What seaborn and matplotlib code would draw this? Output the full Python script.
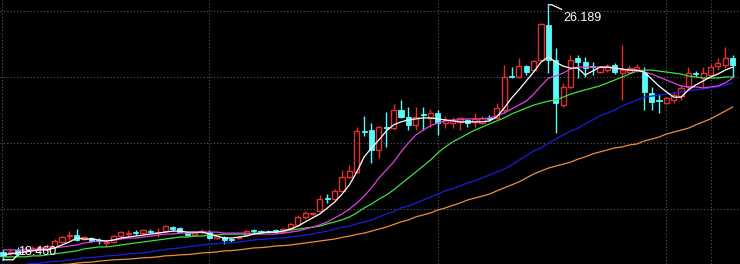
import numpy as np
import pandas as pd
import matplotlib
matplotlib.use("Agg")
import matplotlib.pyplot as plt
import seaborn as sns

# ---------------- data ----------------
opens = [18.70,18.67,18.76,18.73,18.79,18.82,18.79,18.85,19.00,19.18,
         19.21,19.09,19.12,19.06,18.97,19.00,19.18,19.24,19.30,19.27,
         19.33,19.27,19.33,19.45,19.42,19.27,19.21,19.30,19.30,19.12,
         19.15,19.09,19.12,19.21,19.36,19.33,19.33,19.36,19.30,19.42,
         19.52,19.76,19.85,19.94,20.33,20.30,20.55,20.97,21.12,22.36,
         22.39,21.79,22.48,22.45,23.00,22.79,22.55,22.88,22.76,22.91,
         22.61,22.61,22.64,22.70,22.64,22.61,22.76,22.76,23.00,24.03,
         24.00,24.33,24.21,24.52,25.58,24.52,23.15,23.70,24.58,24.45,
         24.33,24.15,24.21,24.36,24.12,24.15,24.21,24.15,23.52,23.30,
         23.21,23.30,23.42,23.70,24.12,23.97,24.06,24.33,24.36,24.58]
highs = [18.76,18.79,18.85,18.85,18.88,18.91,18.94,19.09,19.18,19.33,
         19.39,19.18,19.15,19.12,19.06,19.21,19.33,19.36,19.36,19.39,
         19.39,19.42,19.52,19.48,19.45,19.30,19.30,19.39,19.36,19.18,
         19.18,19.12,19.18,19.36,19.39,19.36,19.36,19.39,19.42,19.58,
         19.82,19.94,19.91,20.42,20.45,20.61,21.18,21.33,22.48,22.82,
         22.61,22.52,22.94,23.18,23.30,23.09,23.09,23.09,23.03,23.00,
         22.82,22.79,22.79,22.73,22.91,22.82,22.85,23.21,24.36,24.30,
         24.58,24.36,24.52,25.64,26.189,24.88,23.82,24.67,24.67,24.61,
         24.45,24.33,24.39,24.42,24.97,24.36,24.39,24.30,23.70,23.48,
         23.39,23.55,23.76,24.30,24.18,24.30,24.39,24.58,24.91,24.67]
lows = [18.46,18.61,18.58,18.70,18.76,18.79,18.73,18.82,18.97,19.06,
        19.03,19.06,19.00,18.94,18.88,18.97,19.15,19.15,19.21,19.24,
        19.27,19.15,19.30,19.33,19.27,19.18,19.18,19.24,19.09,19.09,
        18.94,19.00,19.09,19.18,19.27,19.27,19.27,19.27,19.27,19.39,
        19.48,19.70,19.82,19.91,20.18,20.27,20.52,20.94,21.09,22.21,
        21.39,21.55,21.88,22.39,22.76,22.39,22.39,22.39,22.48,22.24,
        22.45,22.45,22.39,22.48,22.48,22.58,22.67,22.73,22.91,23.97,
        23.97,24.06,24.18,24.48,24.12,22.30,23.09,23.67,23.97,24.00,
        24.06,24.12,24.15,24.09,23.30,24.12,24.15,23.00,23.00,22.91,
        23.18,23.21,23.30,23.61,24.00,23.70,24.00,24.21,24.27,24.00]
closes = [18.58,18.70,18.64,18.79,18.82,18.85,18.88,19.03,19.15,19.21,
          19.06,19.15,19.03,19.03,19.00,19.18,19.30,19.27,19.27,19.36,
          19.30,19.30,19.48,19.39,19.30,19.21,19.27,19.33,19.12,19.18,
          19.06,19.06,19.15,19.33,19.33,19.30,19.30,19.30,19.39,19.55,
          19.76,19.88,19.88,20.30,20.30,20.55,20.97,21.15,22.36,22.33,
          21.79,22.48,22.45,23.00,22.79,22.55,22.79,22.85,22.91,22.61,
          22.70,22.70,22.76,22.61,22.73,22.76,22.73,23.06,24.00,24.00,
          24.33,24.15,24.48,25.61,24.52,23.21,23.70,24.52,24.45,24.27,
          24.30,24.30,24.33,24.15,24.21,24.27,24.30,23.55,23.24,23.27,
          23.36,23.45,23.67,24.12,24.09,24.12,24.30,24.42,24.58,24.36]

ma5 = [18.61,18.64,18.67,18.70,18.73,18.76,18.76,18.82,18.91,19.00,
       19.12,19.09,19.09,19.06,19.03,19.06,19.12,19.15,19.18,19.21,
       19.24,19.27,19.30,19.33,19.33,19.30,19.30,19.30,19.24,19.18,
       19.12,19.12,19.15,19.18,19.24,19.27,19.30,19.30,19.33,19.39,
       19.48,19.61,19.73,19.85,20.03,20.21,20.45,20.73,21.12,21.58,
       21.85,22.09,22.36,22.55,22.64,22.70,22.73,22.76,22.76,22.73,
       22.70,22.67,22.64,22.64,22.64,22.64,22.67,22.79,23.06,23.36,
       23.61,23.88,24.15,24.45,24.61,24.45,24.33,24.27,24.27,24.06,
       24.18,24.30,24.30,24.27,24.24,24.21,24.21,24.15,23.94,23.73,
       23.55,23.39,23.39,23.61,23.76,23.88,24.00,24.09,24.21,24.30]
ma10 = [18.76,18.76,18.76,18.76,18.76,18.79,18.79,18.82,18.85,18.88,
        18.91,18.97,19.00,19.03,19.03,19.06,19.09,19.12,19.12,19.15,
        19.18,19.21,19.24,19.24,19.27,19.27,19.27,19.30,19.30,19.30,
        19.27,19.27,19.27,19.27,19.24,19.24,19.24,19.24,19.27,19.30,
        19.33,19.39,19.45,19.52,19.61,19.73,19.85,20.00,20.18,20.39,
        20.64,20.94,21.18,21.42,21.73,22.00,22.24,22.39,22.52,22.61,
        22.67,22.70,22.70,22.73,22.73,22.73,22.76,22.82,22.91,23.03,
        23.15,23.27,23.48,23.73,23.97,24.03,24.12,24.24,24.30,24.30,
        24.30,24.30,24.30,24.27,24.24,24.21,24.18,24.15,24.09,24.00,
        23.91,23.82,23.73,23.70,23.70,23.67,23.70,23.73,23.82,23.97]
ma20 = [18.55,18.55,18.55,18.55,18.58,18.58,18.61,18.64,18.67,18.70,
        18.73,18.79,18.82,18.85,18.85,18.88,18.91,18.94,18.97,19.00,
        19.03,19.06,19.09,19.12,19.15,19.15,19.18,19.18,19.21,19.21,
        19.24,19.24,19.24,19.24,19.27,19.27,19.30,19.30,19.33,19.36,
        19.39,19.42,19.45,19.48,19.55,19.61,19.67,19.76,19.88,20.03,
        20.15,20.30,20.42,20.58,20.76,20.94,21.12,21.30,21.48,21.70,
        21.88,22.03,22.15,22.27,22.39,22.48,22.58,22.67,22.76,22.88,
        22.97,23.06,23.15,23.21,23.27,23.30,23.39,23.48,23.55,23.61,
        23.67,23.73,23.82,23.91,24.00,24.09,24.18,24.21,24.21,24.18,
        24.15,24.12,24.09,24.03,24.00,23.97,23.97,23.97,24.00,24.00]
ma30 = [18.24,18.27,18.30,18.32,18.35,18.36,18.39,18.41,18.42,18.46,
        18.48,18.52,18.53,18.55,18.58,18.59,18.61,18.64,18.65,18.67,
        18.70,18.74,18.77,18.80,18.82,18.85,18.88,18.91,18.94,18.95,
        18.97,18.97,19.00,19.03,19.06,19.08,19.09,19.12,19.12,19.15,
        19.18,19.21,19.24,19.29,19.33,19.39,19.45,19.48,19.55,19.61,
        19.67,19.76,19.85,19.91,20.03,20.09,20.18,20.27,20.36,20.45,
        20.55,20.61,20.70,20.79,20.85,20.94,21.03,21.12,21.21,21.33,
        21.48,21.61,21.76,21.85,22.00,22.12,22.24,22.36,22.45,22.58,
        22.70,22.82,22.91,23.00,23.12,23.21,23.30,23.39,23.42,23.45,
        23.48,23.52,23.55,23.58,23.61,23.64,23.67,23.70,23.76,23.82]
ma60 = [18.15,18.18,18.21,18.23,18.24,18.27,18.29,18.30,18.32,18.33,
        18.36,18.38,18.39,18.42,18.44,18.46,18.47,18.48,18.50,18.52,
        18.53,18.55,18.58,18.59,18.61,18.62,18.64,18.67,18.68,18.70,
        18.73,18.74,18.76,18.79,18.82,18.83,18.85,18.88,18.89,18.91,
        18.94,18.97,19.00,19.03,19.06,19.09,19.14,19.18,19.23,19.27,
        19.33,19.39,19.45,19.53,19.61,19.67,19.76,19.82,19.88,19.97,
        20.03,20.11,20.18,20.27,20.33,20.39,20.45,20.55,20.64,20.73,
        20.82,20.94,21.06,21.15,21.24,21.30,21.36,21.42,21.51,21.58,
        21.67,21.73,21.79,21.85,21.88,21.94,21.97,22.06,22.12,22.18,
        22.27,22.33,22.39,22.45,22.55,22.64,22.73,22.85,22.97,23.09]

hgrid = [20, 22, 24, 26]
vgrid = [28, 59, 90, 96]
high_label = "26.189"
low_label = "18.460"

# ---------------- figure ----------------
fig = plt.figure(figsize=(7.4, 2.64), dpi=100)
fig.patch.set_facecolor("black")
ax = fig.add_axes([0, 0, 1, 1])
ax.set_facecolor("black")
for s in ax.spines.values():
    s.set_visible(False)
ax.set_xticks([]); ax.set_yticks([])

# px -> index: x_px = 3 + 7.37*i
ax.set_xlim(-3 / 7.37, 737 / 7.37)
ax.set_ylim(26 - 253 / 33, 26 + 11 / 33)

grid_kw = dict(color="#5a5a5a", lw=0.8, ls=(0, (1, 2)), zorder=0)
for y in hgrid:
    ax.axhline(y, **grid_kw)
for x in vgrid:
    ax.axvline(x, **grid_kw)
ax.axvline(-0.2, **grid_kw)

df = pd.DataFrame({"i": np.arange(len(opens)), "open": opens, "high": highs,
                   "low": lows, "close": closes})
up = df[df.close > df.open]
dn = df[df.close <= df.open]
RED = "#e2302c"
CYAN = "#54fcfc"
W = 0.7

# up candles: hollow red
ax.vlines(up.i, up.close, up.high, color=RED, lw=1.0, zorder=2)
ax.vlines(up.i, up.low, up.open, color=RED, lw=1.0, zorder=2)
ax.bar(up.i, (up.close - up.open).clip(lower=0.012), bottom=up.open, width=W,
       fill=False, edgecolor=RED, linewidth=1.0, zorder=2)
# down candles: filled cyan
ax.vlines(dn.i, dn.low, dn.high, color=CYAN, lw=1.0, zorder=2)
ax.bar(dn.i, (dn.open - dn.close).clip(lower=0.03), bottom=dn.close, width=W,
       color=CYAN, edgecolor=CYAN, linewidth=0.6, zorder=2)

ma = pd.DataFrame({"i": np.arange(len(opens)), "MA5": ma5, "MA10": ma10,
                   "MA20": ma20, "MA30": ma30, "MA60": ma60})
ma_long = ma.melt(id_vars="i", var_name="ma", value_name="price")
palette = {"MA60": "#f08c3c", "MA30": "#1c1ce0", "MA20": "#3ee03e",
           "MA10": "#e040e0", "MA5": "#ffffff"}
sns.lineplot(data=ma_long, x="i", y="price", hue="ma", palette=palette,
             hue_order=["MA60", "MA30", "MA20", "MA10", "MA5"],
             linewidth=0.9, legend=False, ax=ax, zorder=3)
ax.set_xlabel(""); ax.set_ylabel("")
ax.set_xticks([]); ax.set_yticks([])

# high / low markers
hi_i = int(np.argmax(highs)); lo_i = int(np.argmin(lows))
ax.plot([hi_i, hi_i + 0.45, hi_i + 1.8], [highs[hi_i], highs[hi_i], highs[hi_i] - 0.14],
        color="white", lw=0.9, zorder=4)
ax.text(hi_i + 2.0, highs[hi_i] - 0.39, high_label, color="white", fontsize=9,
        family="Liberation Sans", va="center", ha="left", zorder=5)
ax.plot([lo_i, lo_i + 1.36, lo_i + 2.0], [lows[lo_i], lows[lo_i], lows[lo_i] + 0.15],
        color="white", lw=0.9, zorder=4)
ax.text(lo_i + 2.05, lows[lo_i] + 0.25, low_label, color="white", fontsize=9,
        family="Liberation Sans", va="center", ha="left", zorder=5)

fig.savefig("out.png", dpi=100, facecolor="black")
